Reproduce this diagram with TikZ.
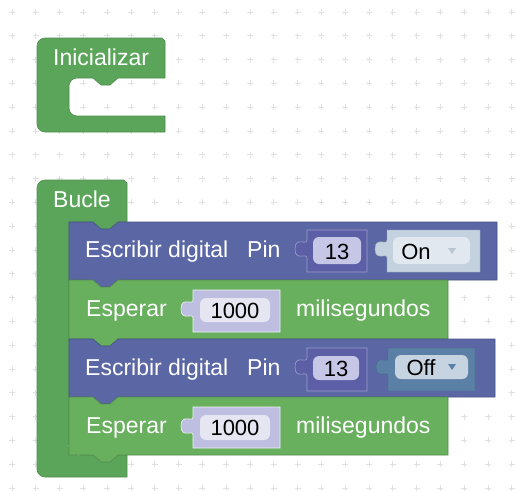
\documentclass[tikz,border=0pt]{standalone}
\usepackage{fontspec}
\setmainfont{Liberation Sans}
\usepackage{tikz}

\definecolor{loopgreen}{HTML}{5BA55B}
\definecolor{waitgreen}{HTML}{68AF5E}
\definecolor{pinblue}{HTML}{5B67A5}
\definecolor{numblue}{HTML}{5C5FA6}
\definecolor{numlav}{HTML}{C6C6E6}
\definecolor{waitslot}{HTML}{BDBEE0}
\definecolor{waitfield}{HTML}{E6E6F3}
\definecolor{onslot}{HTML}{C4D1DF}
\definecolor{onfield}{HTML}{E1E8F0}
\definecolor{offslot}{HTML}{5B80A5}
\definecolor{offfield}{HTML}{C6D4E2}
\definecolor{gridgray}{HTML}{E0E0E0}

\tikzset{
  blocktext/.style={text=white, font=\fontsize{23}{27}\selectfont, inner sep=0pt, anchor=base west},
  fieldtext/.style={text=black, font=\fontsize{22}{26}\selectfont, inner sep=0pt, anchor=base},
  gridmark/.style={draw=gridgray, line width=0.7pt},
}

\begin{document}
\begin{tikzpicture}[x=1pt, y=-1pt]
    \useasboundingbox (0,0) rectangle (532,490);
    % workspace grid
    \foreach \i in {0,...,21}
      \foreach \j in {0,...,20}
        \draw[gridmark] ({12+23.8*\i-3},{12+23.8*\j}) -- +(6,0)
                        ({12+23.8*\i},{12+23.8*\j-3}) -- +(0,6);
    %(1) setup block
    \fill[loopgreen, draw=loopgreen!85!black, line width=0.6pt]
      (37,46) arc[start angle=180, end angle=270, radius=8] -- (162,38) -- (165,41)
      -- (165,78) -- (118,78) -- (110,85) -- (101,85) -- (93,78) -- (77,78)
      arc[start angle=270, end angle=180, radius=8] -- (69,108)
      arc[start angle=180, end angle=90, radius=8] -- (165,116) -- (165,132) -- (45,132)
      arc[start angle=90, end angle=180, radius=8] -- cycle;
    \node[blocktext] (ini) at (53,65) {Inicializar};
    %(2) loop block
    \fill[loopgreen, draw=loopgreen!85!black, line width=0.6pt]
      (37,188) arc[start angle=180, end angle=270, radius=8] -- (124,180) -- (127,183)
      -- (127,222) -- (118,222) -- (110,229) -- (101,229) -- (93,222) -- (69,222)
      -- (69,447) arc[start angle=180, end angle=90, radius=8] -- (127,455)
      -- (127,477) -- (45,477) arc[start angle=90, end angle=180, radius=8] -- cycle;
    \draw[white, line width=0.8pt] (69,445) arc[start angle=180, end angle=90, radius=10];
    \node[blocktext] (bucle) at (53,207) {Bucle};
    %(3) digital write, pin on
    \begin{scope}[shift={(69,222)}]
      \fill[pinblue, draw=pinblue!80!black, line width=0.6pt]
        (0,0) -- (24,0) -- (32,7) -- (41,7) -- (49,0) -- (428,0) -- (428,58)
        -- (49,58) -- (41,65) -- (32,65) -- (24,58) -- (0,58) -- cycle;
      \node[blocktext] (wr1) at (16,35) {Escribir digital};
      \node[blocktext] (pin1) at (178,35) {Pin};
      \fill[numblue, draw=numblue!60!white, line width=0.6pt]
        (238,8) -- (298,8) -- (298,50) -- (238,50) -- (238,36)
        .. controls (238,30) and (226,40) .. (226,27)
        .. controls (226,14) and (238,24) .. (238,18) -- cycle;
      \fill[numlav, rounded corners=6] (244,15) rectangle (292,42);
      \node[fieldtext] (num1) at (268,37) {13};
      \fill[onslot, draw=onslot!80!black, line width=0.4pt]
        (318,8) -- (411,8) -- (411,50) -- (318,50) -- (318,36)
        .. controls (318,30) and (306,40) .. (306,27)
        .. controls (306,14) and (318,24) .. (318,18) -- cycle;
      \fill[onfield, rounded corners=6] (324,15) rectangle (401,42);
      \node[fieldtext] (on) at (347,37) {On};
      \fill[onslot!85!gray] (379,26) -- (387,26) -- (383,32) -- cycle;
    \end{scope}
    %(4) wait
    \begin{scope}[shift={(69,280)}]
      \fill[waitgreen, draw=waitgreen!80!black, line width=0.6pt]
        (0,0) -- (24,0) -- (32,7) -- (41,7) -- (49,0) -- (379,0) -- (379,59)
        -- (49,59) -- (41,66) -- (32,66) -- (24,59) -- (0,59) -- cycle;
      \node[blocktext] (wt1) at (17,36) {Esperar};
      \fill[waitslot, draw=white!80!waitslot, line width=0.6pt]
        (124,10) -- (211,10) -- (211,52) -- (124,52) -- (124,38)
        .. controls (124,32) and (112,42) .. (112,29)
        .. controls (112,16) and (124,26) .. (124,20) -- cycle;
      \fill[waitfield, rounded corners=6] (131,18) rectangle (201,42);
      \node[fieldtext] (ms1) at (166,38) {1000};
      \node[blocktext] (unit1) at (227,36) {milisegundos};
    \end{scope}
    %(5) digital write, pin off
    \begin{scope}[shift={(69,339)}]
      \fill[pinblue, draw=pinblue!80!black, line width=0.6pt]
        (0,0) -- (24,0) -- (32,7) -- (41,7) -- (49,0) -- (426,0) -- (426,58)
        -- (49,58) -- (41,65) -- (32,65) -- (24,58) -- (0,58) -- cycle;
      \node[blocktext] (wr2) at (16,36) {Escribir digital};
      \node[blocktext] (pin2) at (178,36) {Pin};
      \fill[numblue, draw=numblue!60!white, line width=0.6pt]
        (238,9) -- (298,9) -- (298,52) -- (238,52) -- (238,37)
        .. controls (238,31) and (226,41) .. (226,28)
        .. controls (226,15) and (238,25) .. (238,19) -- cycle;
      \fill[numlav, rounded corners=6] (244,17) rectangle (290,41);
      \node[fieldtext] (num2) at (267,37) {13};
      \fill[offslot, draw=offslot!80!black, line width=0.4pt]
        (319,9) -- (406,9) -- (406,52) -- (319,52) -- (319,37)
        .. controls (319,31) and (307,41) .. (307,28)
        .. controls (307,15) and (319,25) .. (319,19) -- cycle;
      \fill[offfield, rounded corners=6] (326,16) rectangle (399,40);
      \node[fieldtext] (off) at (352,36) {Off};
      \fill[offslot] (379,25) -- (387,25) -- (383,31) -- cycle;
    \end{scope}
    %(6) wait
    \begin{scope}[shift={(69,397)}]
      \fill[waitgreen, draw=waitgreen!80!black, line width=0.6pt]
        (0,0) -- (24,0) -- (32,7) -- (41,7) -- (49,0) -- (379,0) -- (379,58)
        -- (49,58) -- (41,65) -- (32,65) -- (24,58) -- (0,58) -- cycle;
      \node[blocktext] (wt2) at (17,36) {Esperar};
      \fill[waitslot, draw=white!80!waitslot, line width=0.6pt]
        (124,10) -- (211,10) -- (211,51) -- (124,51) -- (124,38)
        .. controls (124,32) and (112,42) .. (112,29)
        .. controls (112,16) and (124,26) .. (124,20) -- cycle;
      \fill[waitfield, rounded corners=6] (131,18) rectangle (201,43);
      \node[fieldtext] (ms2) at (166,38) {1000};
      \node[blocktext] (unit2) at (227,36) {milisegundos};
    \end{scope}
\end{tikzpicture}
\end{document}
